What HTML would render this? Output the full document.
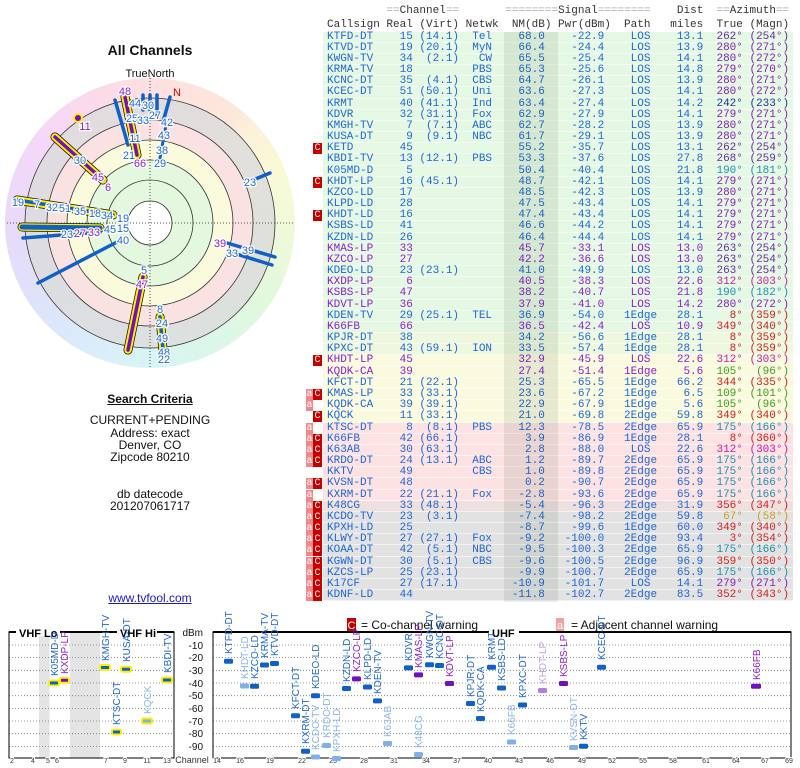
<!DOCTYPE html>
<html><head><meta charset="utf-8">
<style>
*{margin:0;padding:0;box-sizing:border-box}
body{width:800px;height:768px;background:#fff;position:relative;overflow:hidden;font-family:"Liberation Sans",sans-serif}
.tb{position:absolute;left:323px;top:31.5px;width:470px}
.r{position:relative;height:11.18px;line-height:11px;font-family:"Liberation Mono",monospace;font-size:11px;letter-spacing:0;white-space:pre;padding-left:4px;color:#1f66d8;border-bottom:1px solid rgba(255,255,255,.55)}
.g{background:#e5f8e3}.g2{background:#edf8df}.y{background:#fafadf}.k{background:#fce2e2}.kg{background:#efe0e0}.gr{background:#e2e2e2}
.pu{color:#8a1fd0}
.nm{position:absolute;left:504px;top:31.5px;width:54px;height:570px;background:rgba(0,40,0,.08)}
.hd{position:absolute;left:327px;font-family:"Liberation Mono",monospace;font-size:11px;letter-spacing:0;white-space:pre;color:#333}
.hd i{font-style:normal;color:#aaa}
.C,.A{position:absolute;top:0;height:11px;color:#fff;font-size:10px;line-height:11px;text-align:center;padding:0;letter-spacing:0}
.C{left:-10px;width:9px;background:#c80000}
.A{left:-17px;width:7px;background:#f08a8a}
.a1{color:#6a2aa8}.a2{color:#8420b8}.a3{color:#2030a0}.a4{color:#2090b0}.a5{color:#d42020}.a6{color:#c820a0}.a7{color:#40a020}.a8{color:#c8a020}
.lt{position:absolute;left:0;width:300px;text-align:center;font-size:12px;color:#111}
</style></head><body>

<div class="hd" style="top:5px">         <i>==</i>Channel<i>==</i>       <i>========</i>Signal<i>========</i>    Dist  <i>==</i>Azimuth<i>==</i></div>
<div class="hd" style="top:19px">Callsign Real (Virt) Netwk  NM(dB) Pwr(dBm)  Path   miles  True (Magn)</div>

<div class="tb">
<div class="r g">KTFD-DT    15 (14.1)  Tel    68.0    -22.9    LOS    13.1<span class="a1">  262° (254°)</span></div>
<div class="r g">KTVD-DT    19 (20.1)  MyN    66.4    -24.4    LOS    13.9<span class="a2">  280° (271°)</span></div>
<div class="r g">KWGN-TV    34  (2.1)   CW    65.5    -25.4    LOS    14.1<span class="a2">  280° (272°)</span></div>
<div class="r g">KRMA-TV    18         PBS    65.3    -25.6    LOS    14.8<span class="a2">  279° (270°)</span></div>
<div class="r g">KCNC-DT    35  (4.1)  CBS    64.7    -26.1    LOS    13.9<span class="a2">  280° (271°)</span></div>
<div class="r g">KCEC-DT    51 (50.1)  Uni    63.6    -27.3    LOS    14.1<span class="a2">  280° (272°)</span></div>
<div class="r g">KRMT       40 (41.1)  Ind    63.4    -27.4    LOS    14.2<span class="a3">  242° (233°)</span></div>
<div class="r g">KDVR       32 (31.1)  Fox    62.9    -27.9    LOS    14.1<span class="a2">  279° (271°)</span></div>
<div class="r g">KMGH-TV     7  (7.1)  ABC    62.7    -28.2    LOS    13.9<span class="a2">  280° (271°)</span></div>
<div class="r g">KUSA-DT     9  (9.1)  NBC    61.7    -29.1    LOS    13.9<span class="a2">  280° (271°)</span></div>
<div class="r g"><span class="C">C</span>KETD       45                55.2    -35.7    LOS    13.1<span class="a1">  262° (254°)</span></div>
<div class="r g">KBDI-TV    13 (12.1)  PBS    53.3    -37.6    LOS    27.8<span class="a1">  268° (259°)</span></div>
<div class="r g">K05MD-D     5                50.4    -40.4    LOS    21.8<span class="a4">  190° (181°)</span></div>
<div class="r g"><span class="C">C</span>KHDT-LP    16 (45.1)         48.7    -42.1    LOS    14.1<span class="a2">  279° (271°)</span></div>
<div class="r g">KZCO-LD    17                48.5    -42.3    LOS    13.9<span class="a2">  280° (271°)</span></div>
<div class="r g">KLPD-LD    28                47.5    -43.4    LOS    14.1<span class="a2">  279° (271°)</span></div>
<div class="r g"><span class="C">C</span>KHDT-LD    16                47.4    -43.4    LOS    14.1<span class="a2">  279° (271°)</span></div>
<div class="r g">KSBS-LD    41                46.6    -44.2    LOS    14.1<span class="a2">  279° (271°)</span></div>
<div class="r g">KZDN-LD    26                46.4    -44.4    LOS    14.1<span class="a2">  279° (271°)</span></div>
<div class="r g pu">KMAS-LP    33                45.7    -33.1    LOS    13.0<span class="a1">  263° (254°)</span></div>
<div class="r g pu">KZCO-LP    27                42.2    -36.6    LOS    13.0<span class="a1">  263° (254°)</span></div>
<div class="r g">KDEO-LD    23 (23.1)         41.0    -49.9    LOS    13.0<span class="a1">  263° (254°)</span></div>
<div class="r g pu">KXDP-LP     6                40.5    -38.3    LOS    22.6<span class="a6">  312° (303°)</span></div>
<div class="r g pu">KSBS-LP    47                38.2    -40.7    LOS    21.8<span class="a4">  190° (182°)</span></div>
<div class="r g pu">KDVT-LP    36                37.9    -41.0    LOS    14.2<span class="a2">  280° (272°)</span></div>
<div class="r g">KDEN-TV    29 (25.1)  TEL    36.9    -54.0   1Edge   28.1<span class="a5">    8° (359°)</span></div>
<div class="r g pu">K66FB      66                36.5    -42.4    LOS    10.9<span class="a5">  349° (340°)</span></div>
<div class="r g2">KPJR-DT    38                34.2    -56.6   1Edge   28.1<span class="a5">    8° (359°)</span></div>
<div class="r g2">KPXC-DT    43 (59.1)  ION    33.5    -57.4   1Edge   28.1<span class="a5">    8° (359°)</span></div>
<div class="r y pu"><span class="C">C</span>KHDT-LP    45                32.9    -45.9    LOS    22.6<span class="a6">  312° (303°)</span></div>
<div class="r y pu">KQDK-CA    39                27.4    -51.4   1Edge    5.6<span class="a7">  105°  (96°)</span></div>
<div class="r y">KFCT-DT    21 (22.1)         25.3    -65.5   1Edge   66.2<span class="a5">  344° (335°)</span></div>
<div class="r y"><span class="A">a</span><span class="C">C</span>KMAS-LP    33 (33.1)         23.6    -67.2   1Edge    6.5<span class="a7">  109° (101°)</span></div>
<div class="r y"><span class="A">a</span>KQDK-CA    39 (39.1)         22.9    -67.9   1Edge    5.6<span class="a7">  105°  (96°)</span></div>
<div class="r y"><span class="C">C</span>KQCK       11 (33.1)         21.0    -69.8   2Edge   59.8<span class="a5">  349° (340°)</span></div>
<div class="r k"><span class="A">a</span>KTSC-DT     8  (8.1)  PBS    12.3    -78.5   2Edge   65.9<span class="a4">  175° (166°)</span></div>
<div class="r k"><span class="A">a</span><span class="C">C</span>K66FB      42 (66.1)          3.9    -86.9   1Edge   28.1<span class="a5">    8° (360°)</span></div>
<div class="r k"><span class="A">a</span><span class="C">C</span>K63AB      30 (63.1)          2.8    -88.0    LOS    22.6<span class="a6">  312° (303°)</span></div>
<div class="r k"><span class="A">a</span><span class="C">C</span>KRDO-DT    24 (13.1)  ABC     1.2    -89.7   2Edge   65.9<span class="a4">  175° (166°)</span></div>
<div class="r k">KKTV       49         CBS     1.0    -89.8   2Edge   65.9<span class="a4">  175° (166°)</span></div>
<div class="r k"><span class="A">a</span><span class="C">C</span>KVSN-DT    48                 0.2    -90.7   2Edge   65.9<span class="a4">  175° (166°)</span></div>
<div class="r k"><span class="A">a</span>KXRM-DT    22 (21.1)  Fox    -2.8    -93.6   2Edge   65.9<span class="a4">  175° (166°)</span></div>
<div class="r kg"><span class="A">a</span><span class="C">C</span>K48CG      33 (48.1)         -5.4    -96.3   2Edge   31.9<span class="a5">  356° (347°)</span></div>
<div class="r gr"><span class="A">a</span><span class="C">C</span>KCDO-TV    23  (3.1)         -7.4    -98.2   2Edge   59.8<span class="a8">   67°  (58°)</span></div>
<div class="r gr"><span class="A">a</span><span class="C">C</span>KPXH-LD    25                -8.7    -99.6   1Edge   60.0<span class="a5">  349° (340°)</span></div>
<div class="r gr"><span class="A">a</span><span class="C">C</span>KLWY-DT    27 (27.1)  Fox    -9.2   -100.0   2Edge   93.4<span class="a5">    3° (354°)</span></div>
<div class="r gr"><span class="A">a</span><span class="C">C</span>KOAA-DT    42  (5.1)  NBC    -9.5   -100.3   2Edge   65.9<span class="a4">  175° (166°)</span></div>
<div class="r gr"><span class="A">a</span><span class="C">C</span>KGWN-DT    30  (5.1)  CBS    -9.6   -100.5   2Edge   96.9<span class="a5">  359° (350°)</span></div>
<div class="r gr"><span class="A">a</span><span class="C">C</span>KZCS-LP    25 (23.1)         -9.9   -100.7   2Edge   65.9<span class="a4">  175° (166°)</span></div>
<div class="r gr"><span class="A">a</span><span class="C">C</span>K17CF      27 (17.1)        -10.9   -101.7    LOS    14.1<span class="a2">  279° (271°)</span></div>
<div class="r gr"><span class="A">a</span><span class="C">C</span>KDNF-LD    44               -11.8   -102.7   2Edge   83.5<span class="a5">  352° (343°)</span></div>
</div>
<div class="nm"></div>

<div class="lt" style="top:42px;font-size:14px;font-weight:bold">All Channels</div>
<div class="lt" style="top:392px;font-weight:bold;text-decoration:underline">Search Criteria</div>
<div class="lt" style="top:413px">CURRENT+PENDING</div>
<div class="lt" style="top:426px">Address: exact</div>
<div class="lt" style="top:438px">Denver, CO</div>
<div class="lt" style="top:450px">Zipcode 80210</div>
<div class="lt" style="top:487px">db datecode</div>
<div class="lt" style="top:499px">201207061717</div>
<div class="lt" style="top:591px;color:#1a1acc;text-decoration:underline">www.tvfool.com</div>

<div style="position:absolute;left:5px;top:78px;width:290px;height:290px;border-radius:50%;background:conic-gradient(#fde0e0 0deg,#fde6da 35deg,#fbf3d8 50deg,#f9fad6 70deg,#eef9d8 95deg,#e0f8de 130deg,#d9f6ee 165deg,#d8f3f9 185deg,#dbe9fb 215deg,#e0e0fa 245deg,#ead9fa 275deg,#f6d8f8 310deg,#fbdbe8 340deg,#fde0e0 360deg)"></div>

<svg width="800" height="768" style="position:absolute;left:0;top:0" font-family="Liberation Sans, sans-serif">
<g stroke="#333" stroke-width="0.8">
<circle cx="150" cy="223" r="125" fill="rgba(220,220,220,0.85)"/>
<circle cx="150" cy="223" r="103" fill="#fbe2e2"/>
<circle cx="150" cy="223" r="83" fill="#fafadc"/>
<circle cx="150" cy="223" r="63" fill="#e4f8e0"/>
<circle cx="150" cy="223" r="43" fill="#e4f8e0"/>
<circle cx="150" cy="223" r="22" fill="#fff"/>
</g>
<g stroke="#222" stroke-width="0.8" stroke-dasharray="1,2">
<line x1="7" y1="223" x2="295" y2="223"/><line x1="150" y1="78" x2="150" y2="368"/>
</g>
<text x="150" y="77" font-size="11" text-anchor="middle" fill="#111">TrueNorth</text>
<text x="173" y="96" font-size="11" fill="#d00">N</text>
<g stroke-linecap="round">
<g stroke="#111" stroke-width="9"><line x1="125" y1="97" x2="137" y2="155"/><line x1="55" y1="137" x2="103" y2="180"/><line x1="17" y1="200" x2="113" y2="215"/><line x1="22" y1="227" x2="100" y2="228"/><line x1="143" y1="277" x2="128" y2="350"/><line x1="160" y1="317" x2="163" y2="350"/></g>
<g stroke="#ffee00" stroke-width="7.5"><line x1="125" y1="97" x2="137" y2="155"/><line x1="55" y1="137" x2="103" y2="180"/><line x1="17" y1="200" x2="113" y2="215"/><line x1="22" y1="227" x2="100" y2="228"/><line x1="143" y1="277" x2="128" y2="350"/><line x1="160" y1="317" x2="163" y2="350"/></g>
<g stroke="#1060c8" stroke-width="3.5"><line x1="115" y1="100" x2="128" y2="145"/><line x1="143" y1="95" x2="143" y2="110"/><line x1="150" y1="95" x2="150" y2="110"/><line x1="157" y1="95" x2="157" y2="115"/><line x1="170" y1="97" x2="163" y2="122"/><line x1="270" y1="173" x2="253" y2="180"/><line x1="23" y1="238" x2="100" y2="232"/><line x1="38" y1="283" x2="117" y2="242"/><line x1="227" y1="243" x2="275" y2="257"/><line x1="230" y1="252" x2="272" y2="265"/><line x1="160" y1="317" x2="163" y2="350"/><line x1="22" y1="227" x2="100" y2="228" stroke-width="5"/><line x1="17" y1="200" x2="113" y2="215"/></g>
<line x1="166" y1="125" x2="160" y2="158" stroke="#1060c8" stroke-width="3" stroke-dasharray="4,2"/>
<g stroke="#7010c0" stroke-width="3.5"><line x1="125" y1="97" x2="137" y2="155"/><line x1="55" y1="137" x2="103" y2="180"/><line x1="143" y1="277" x2="128" y2="350"/></g>
<circle cx="78" cy="118" r="4" fill="#7010c0" stroke="#ffee00" stroke-width="2"/>
</g>
<g font-size="11" fill="#1f66d8" stroke="#fff" stroke-width="2.5" paint-order="stroke" text-anchor="middle">
<text x="125" y="95" fill="#8a1fd0">48</text><text x="135" y="107">44</text><text x="148" y="109">30</text><text x="132" y="122">25</text><text x="143" y="124">33</text><text x="155" y="119">27</text><text x="167" y="126">42</text><text x="135" y="142">11</text><text x="164" y="139">43</text><text x="129" y="159">21</text><text x="140" y="167" fill="#8a1fd0">66</text><text x="162" y="154">38</text><text x="160" y="167">29</text>
<text x="85" y="130" fill="#8a1fd0">11</text><text x="80" y="164">30</text><text x="98" y="181" fill="#8a1fd0">45</text><text x="108" y="191" fill="#8a1fd0">6</text><text x="250" y="186">23</text>
<text x="18" y="206">19</text><text x="37" y="208">7</text><text x="52" y="211">32</text><text x="65" y="212">51</text><text x="80" y="215">35</text><text x="95" y="217">18</text><text x="107" y="219">34</text><text x="123" y="222">19</text>
<text x="123" y="232">15</text><text x="110" y="233">45</text><text x="94" y="236" fill="#8a1fd0">33</text><text x="80" y="237" fill="#8a1fd0">27</text><text x="67" y="238">23</text><text x="123" y="244">40</text>
<text x="220" y="247" fill="#8a1fd0">39</text><text x="248" y="254">39</text><text x="232" y="257">33</text>
<text x="144" y="274">5</text><text x="142" y="288" fill="#8a1fd0">47</text><text x="160" y="313">8</text><text x="162" y="327">24</text><text x="162" y="342">49</text><text x="164" y="356">48</text><text x="164" y="363">22</text>
</g>

<rect x="347" y="618" width="9" height="13" fill="#c80000"/><text x="351.5" y="629" font-size="11" fill="#fff" text-anchor="middle">C</text>
<text x="361" y="629" font-size="12" fill="#111">= Co-channel warning</text>
<rect x="556" y="618" width="8" height="13" fill="#f4a0a0"/><text x="560" y="629" font-size="11" fill="#fff" text-anchor="middle">a</text>
<text x="571" y="629" font-size="12" fill="#111">= Adjacent channel warning</text>

<rect x="39" y="632" width="10.5" height="126" fill="#e4e4e4"/><rect x="70" y="632" width="30" height="126" fill="#e4e4e4"/>
<g stroke="#777" stroke-width="0.8" stroke-dasharray="1,2">
<path d="M9 645H174M9 657.6H174M9 670.3H174M9 683H174M9 695.7H174M9 708.4H174M9 721H174M9 733.7H174M9 746.4H174"/>
<path d="M213 645H791M213 657.6H791M213 670.3H791M213 683H791M213 695.7H791M213 708.4H791M213 721H791M213 733.7H791M213 746.4H791"/>
</g>
<g fill="none" stroke="#000"><rect x="9" y="632" width="165" height="126"/><rect x="213" y="632" width="578" height="126"/></g>
<path d="M9 632H174M213 632H791" stroke="#000" stroke-width="2"/>
<g font-size="11" font-weight="bold" fill="#000">
<rect x="16" y="626" width="44" height="10" fill="#fff"/><text x="19" y="637">VHF Lo</text>
<rect x="117" y="626" width="40" height="10" fill="#fff"/><text x="120" y="637">VHF Hi</text>
<rect x="489" y="626" width="30" height="10" fill="#fff"/><text x="492" y="637">UHF</text>
</g>
<g font-size="10" fill="#111" text-anchor="end"><text x="203" y="636">dBm</text><text x="203" y="649">-10</text><text x="203" y="661">-20</text><text x="203" y="674">-30</text><text x="203" y="687">-40</text><text x="203" y="699">-50</text><text x="203" y="712">-60</text><text x="203" y="725">-70</text><text x="203" y="737">-80</text><text x="203" y="750">-90</text></g>
<g font-size="7" fill="#333" text-anchor="middle" stroke="#fff" stroke-width="2" paint-order="stroke">
<text x="192" y="763" font-size="9">Channel</text>
<text x="12" y="763">2</text><text x="33" y="763">4</text><text x="48" y="763">5</text><text x="57" y="763">6</text><text x="106" y="763">7</text><text x="125" y="763">9</text><text x="147" y="763">11</text><text x="167" y="763">13</text>
<text x="217" y="763">14</text><text x="240" y="763">16</text><text x="270" y="763">19</text><text x="302" y="763">22</text><text x="333" y="763">25</text><text x="364" y="763">28</text><text x="394" y="763">31</text><text x="426" y="763">34</text><text x="457" y="763">37</text><text x="488" y="763">40</text><text x="519" y="763">43</text><text x="550" y="763">46</text><text x="582" y="763">49</text><text x="612" y="763">52</text><text x="643" y="763">55</text><text x="673" y="763">58</text><text x="706" y="763">61</text><text x="736" y="763">64</text><text x="765" y="763">67</text><text x="789" y="763">69</text>
</g>
<g stroke="#ffee00" stroke-width="2">
<rect x="49" y="680.5" width="10" height="5" rx="1.5" fill="#1060c8"/>
<rect x="60" y="677.8" width="9" height="5" rx="1.5" fill="#7010c0"/>
<rect x="100" y="665" width="10" height="5" rx="1.5" fill="#1060c8"/>
<rect x="121" y="666.7" width="10" height="5" rx="1.5" fill="#1060c8"/>
<rect x="162" y="677.5" width="10" height="5" rx="1.5" fill="#1060c8"/>
<rect x="112" y="729.5" width="9" height="5" rx="1.5" fill="#1060c8"/>
<rect x="142" y="718.5" width="10" height="5" rx="1.5" fill="#80b0e8"/>
</g>
<g fill="#1060c8">
<rect x="224" y="658.8" width="9" height="5" rx="1.5"/>
<rect x="240" y="683.5" width="9" height="5" rx="1.5" fill="#80b0e8"/>
<rect x="250" y="683.7" width="9" height="5" rx="1.5"/>
<rect x="260" y="662.5" width="9" height="5" rx="1.5"/>
<rect x="270" y="661" width="9" height="5" rx="1.5"/>
<rect x="291" y="713.2" width="9" height="5" rx="1.5"/>
<rect x="301" y="748.7" width="9" height="5" rx="1.5"/>
<rect x="311" y="693.2" width="9" height="5" rx="1.5"/>
<rect x="311" y="754.5" width="9" height="5" rx="1.5" fill="#80b0e8"/>
<rect x="322" y="743" width="9" height="5" rx="1.5" fill="#80b0e8"/>
<rect x="332" y="756" width="9" height="5" rx="1.5" fill="#80b0e8"/>
<rect x="342" y="686" width="9" height="5" rx="1.5"/>
<rect x="352" y="676.4" width="9" height="5" rx="1.5" fill="#7010c0"/>
<rect x="363" y="684.5" width="9" height="5" rx="1.5"/>
<rect x="373" y="698.4" width="9" height="5" rx="1.5"/>
<rect x="383" y="741" width="9" height="5" rx="1.5" fill="#80b0e8"/>
<rect x="404" y="665.4" width="9" height="5" rx="1.5"/>
<rect x="414" y="672.4" width="9" height="5" rx="1.5" fill="#7010c0"/>
<rect x="414" y="752" width="9" height="5" rx="1.5" fill="#80b0e8"/>
<rect x="425" y="662.2" width="9" height="5" rx="1.5"/>
<rect x="435" y="663" width="9" height="5" rx="1.5"/>
<rect x="445" y="681" width="9" height="5" rx="1.5" fill="#7010c0"/>
<rect x="466" y="701" width="9" height="5" rx="1.5"/>
<rect x="476" y="716" width="9" height="5" rx="1.5"/>
<rect x="487" y="664.8" width="9" height="5" rx="1.5"/>
<rect x="497" y="685.5" width="9" height="5" rx="1.5"/>
<rect x="507" y="739.5" width="9" height="5" rx="1.5" fill="#80b0e8"/>
<rect x="518" y="702.5" width="9" height="5" rx="1.5"/>
<rect x="538" y="688" width="9" height="5" rx="1.5" fill="#b080e0"/>
<rect x="559" y="681" width="9" height="5" rx="1.5" fill="#7010c0"/>
<rect x="569" y="745" width="9" height="5" rx="1.5" fill="#80b0e8"/>
<rect x="579" y="743.8" width="9" height="5" rx="1.5"/>
<rect x="597" y="664.7" width="9" height="5" rx="1.5"/>
<rect x="751" y="683.7" width="10" height="5" rx="1.5" fill="#7010c0"/>
</g>
<g font-size="10" fill="#1f66d8">
<text transform="translate(58,676) rotate(-90)">K05MD-D</text>
<text transform="translate(68,674) rotate(-90)" fill="#8a1fd0">KXDP-LP</text>
<text transform="translate(109,661) rotate(-90)">KMGH-TV</text>
<text transform="translate(130,662) rotate(-90)">KUSA-DT</text>
<text transform="translate(171,673) rotate(-90)">KBDI-TV</text>
<text transform="translate(120,725) rotate(-90)">KTSC-DT</text>
<text transform="translate(151,714) rotate(-90)" fill="#88b4ec">KQCK</text>
<text transform="translate(232,654) rotate(-90)">KTFD-DT</text>
<text transform="translate(248,679) rotate(-90)" fill="#88b4ec">KHDT-LD</text>
<text transform="translate(258,679) rotate(-90)">KZCO-LD</text>
<text transform="translate(268,658) rotate(-90)">KRMA-TV</text>
<text transform="translate(278,656) rotate(-90)">KTVD-DT</text>
<text transform="translate(299,709) rotate(-90)">KFCT-DT</text>
<text transform="translate(309,744) rotate(-90)">KXRM-DT</text>
<text transform="translate(319,689) rotate(-90)">KDEO-LD</text>
<text transform="translate(319,750) rotate(-90)" fill="#88b4ec">KCDO-TV</text>
<text transform="translate(330,738) rotate(-90)" fill="#88b4ec">KRDO-DT</text>
<text transform="translate(340,752) rotate(-90)" fill="#88b4ec">KPXH-LD</text>
<text transform="translate(350,682) rotate(-90)">KZDN-LD</text>
<text transform="translate(360,672) rotate(-90)" fill="#8a1fd0">KZCO-LP</text>
<text transform="translate(371,680) rotate(-90)">KLPD-LD</text>
<text transform="translate(381,694) rotate(-90)">KDEN-TV</text>
<text transform="translate(391,737) rotate(-90)" fill="#88b4ec">K63AB</text>
<text transform="translate(412,661) rotate(-90)">KDVR</text>
<text transform="translate(422,668) rotate(-90)" fill="#8a1fd0">KMAS-LP</text>
<text transform="translate(422,748) rotate(-90)" fill="#88b4ec">K48CG</text>
<text transform="translate(433,658) rotate(-90)">KWGN-TV</text>
<text transform="translate(443,659) rotate(-90)">KCNC-DT</text>
<text transform="translate(453,677) rotate(-90)" fill="#8a1fd0">KDVT-LP</text>
<text transform="translate(474,697) rotate(-90)">KPJR-DT</text>
<text transform="translate(484,712) rotate(-90)">KQDK-CA</text>
<text transform="translate(495,660) rotate(-90)">KRMT</text>
<text transform="translate(505,681) rotate(-90)">KSBS-LD</text>
<text transform="translate(515,735) rotate(-90)" fill="#88b4ec">K66FB</text>
<text transform="translate(526,698) rotate(-90)">KPXC-DT</text>
<text transform="translate(546,684) rotate(-90)" fill="#c0a0e8">KHDT-LP</text>
<text transform="translate(567,677) rotate(-90)" fill="#8a1fd0">KSBS-LP</text>
<text transform="translate(577,741) rotate(-90)" fill="#88b4ec">KVSN-DT</text>
<text transform="translate(587,740) rotate(-90)">KKTV</text>
<text transform="translate(605,660) rotate(-90)">KCEC-DT</text>
<text transform="translate(760,680) rotate(-90)" fill="#8a1fd0">K66FB</text>
</g>
</svg>
</body></html>
